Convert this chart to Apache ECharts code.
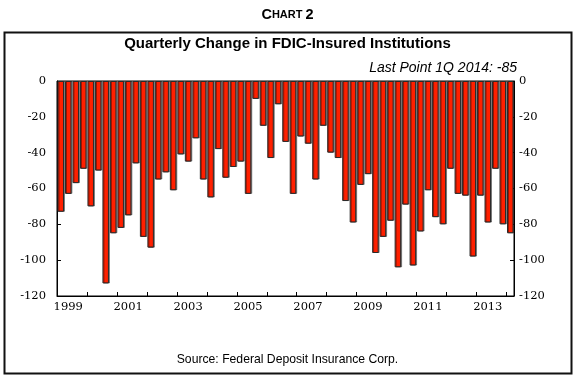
<!DOCTYPE html>
<html><head><meta charset="utf-8">
<script src="https://cdn.jsdelivr.net/npm/echarts@6/dist/echarts.min.js"></script>
<style>html,body{margin:0;padding:0;background:#fff}#c{width:575px;height:379px}</style>
</head><body><div id="c"></div>
<script>
// Years covered (quarterly, 1999Q1 .. 2014Q1)
const years = ['1999','2000','2001','2002','2003','2004','2005','2006','2007','2008','2009','2010','2011','2012','2013','2014'];
const quarterNames = ['Q1','Q2','Q3','Q4'];
// Quarterly change in number of FDIC-insured institutions
const changes = [
  -73, -63, -57, -49,   // 1999
  -70, -50, -113, -85,  // 2000
  -82, -75, -46, -87,   // 2001
  -93, -55, -51, -61,   // 2002
  -41, -45, -32, -55,   // 2003
  -65, -38, -54, -48,   // 2004
  -45, -63, -10, -25,   // 2005
  -43, -13, -34, -63,   // 2006
  -31, -35, -55, -25,   // 2007
  -40, -43, -67, -79,   // 2008
  -58, -52, -96, -87,   // 2009
  -78, -104, -69, -103, // 2010
  -84, -61, -76, -80,   // 2011
  -49, -63, -64, -98,   // 2012
  -64, -79, -49, -80,   // 2013
  -85                   // 2014
];
const yearTickLabels = ['1999','2001','2003','2005','2007','2009','2011','2013'];
const yTicks = [-120, -100, -80, -60, -40, -20, 0];

const categories = [];
years.forEach(y => quarterNames.forEach(q => { if (categories.length < changes.length) categories.push(y + q); }));

const chart = echarts.init(document.getElementById('c'), null, {renderer: 'canvas'});
const serif = 'DejaVu Serif';
const sans = 'Liberation Sans, Arial, sans-serif';
chart.setOption({
  animation: false,
  backgroundColor: '#fff',
  title: [
    { text: '{a|C}{b|HART }{a|2}', left: 'center', top: 7, padding: 0,
      textStyle: { rich: {
        a: { fontSize: 14.5, fontWeight: 'bold', fontFamily: sans, color: '#000' },
        b: { fontSize: 11, fontWeight: 'bold', fontFamily: sans, color: '#000' } } } },
    { text: 'Quarterly Change in FDIC-Insured Institutions', left: 'center', top: 36, padding: 0,
      textStyle: { fontSize: 15, fontWeight: 'bold', fontFamily: sans, color: '#000' } },
    { text: 'Last Point 1Q 2014: -85', right: 58, top: 61, padding: 0,
      textStyle: { fontSize: 14, fontStyle: 'italic', fontWeight: 'normal', fontFamily: sans, color: '#000' } },
    { text: 'Source: Federal Deposit Insurance Corp.', left: 'center', top: 354, padding: 0,
      textStyle: { fontSize: 12.2, fontWeight: 'normal', fontFamily: sans, color: '#000' } }
  ],
  graphic: [
    { type: 'rect', shape: { x: 4.5, y: 32.5, width: 567, height: 341 },
      style: { fill: 'none', stroke: '#111', lineWidth: 2 }, silent: true }
  ],
  grid: { left: 57, top: 81, width: 457, height: 215, show: true, borderColor: '#000', borderWidth: 1, backgroundColor: 'transparent' },
  xAxis: {
    type: 'category', data: categories, boundaryGap: true,
    axisLine: { show: true, onZero: false, lineStyle: { color: '#000', width: 1 } },
    axisTick: { show: true, inside: true, length: 4, lineStyle: { color: '#000' },
      interval: (i) => i > 0 && i % 4 === 0 },
    axisLabel: { show: true, margin: 5, fontFamily: serif, fontSize: 11.5, color: '#000',
      interval: (i) => yearTickLabels.includes(categories[i].slice(0,4)) && categories[i].slice(4) === 'Q2',
      formatter: (v) => v.slice(0,4) },
    splitLine: { show: false }
  },
  yAxis: [
    { type: 'value', min: yTicks[0], max: yTicks[yTicks.length-1], interval: 20, position: 'left',
      axisLine: { show: true, lineStyle: { color: '#000' } },
      axisTick: { show: true, inside: true, length: 4, lineStyle: { color: '#000' } },
      axisLabel: { margin: 11, fontFamily: serif, fontSize: 11.5, color: '#000', padding: [0,0,5,0] },
      splitLine: { show: false } },
    { type: 'value', min: yTicks[0], max: yTicks[yTicks.length-1], interval: 20, position: 'right',
      axisLine: { show: true, lineStyle: { color: '#000' } },
      axisTick: { show: true, inside: true, length: 4, lineStyle: { color: '#000' } },
      axisLabel: { margin: 5, fontFamily: serif, fontSize: 11.5, color: '#000', padding: [0,0,5,0] },
      splitLine: { show: false } }
  ],
  series: [{
    type: 'bar', data: changes, yAxisIndex: 0, barWidth: 6.5,
    itemStyle: { color: '#ff2000', borderColor: '#2a2a2a', borderWidth: 1,
      shadowColor: 'rgba(0,0,0,0.4)', shadowOffsetX: 1, shadowOffsetY: 0, shadowBlur: 0 },
    emphasis: { disabled: true }
  }]
});
</script></body></html>
